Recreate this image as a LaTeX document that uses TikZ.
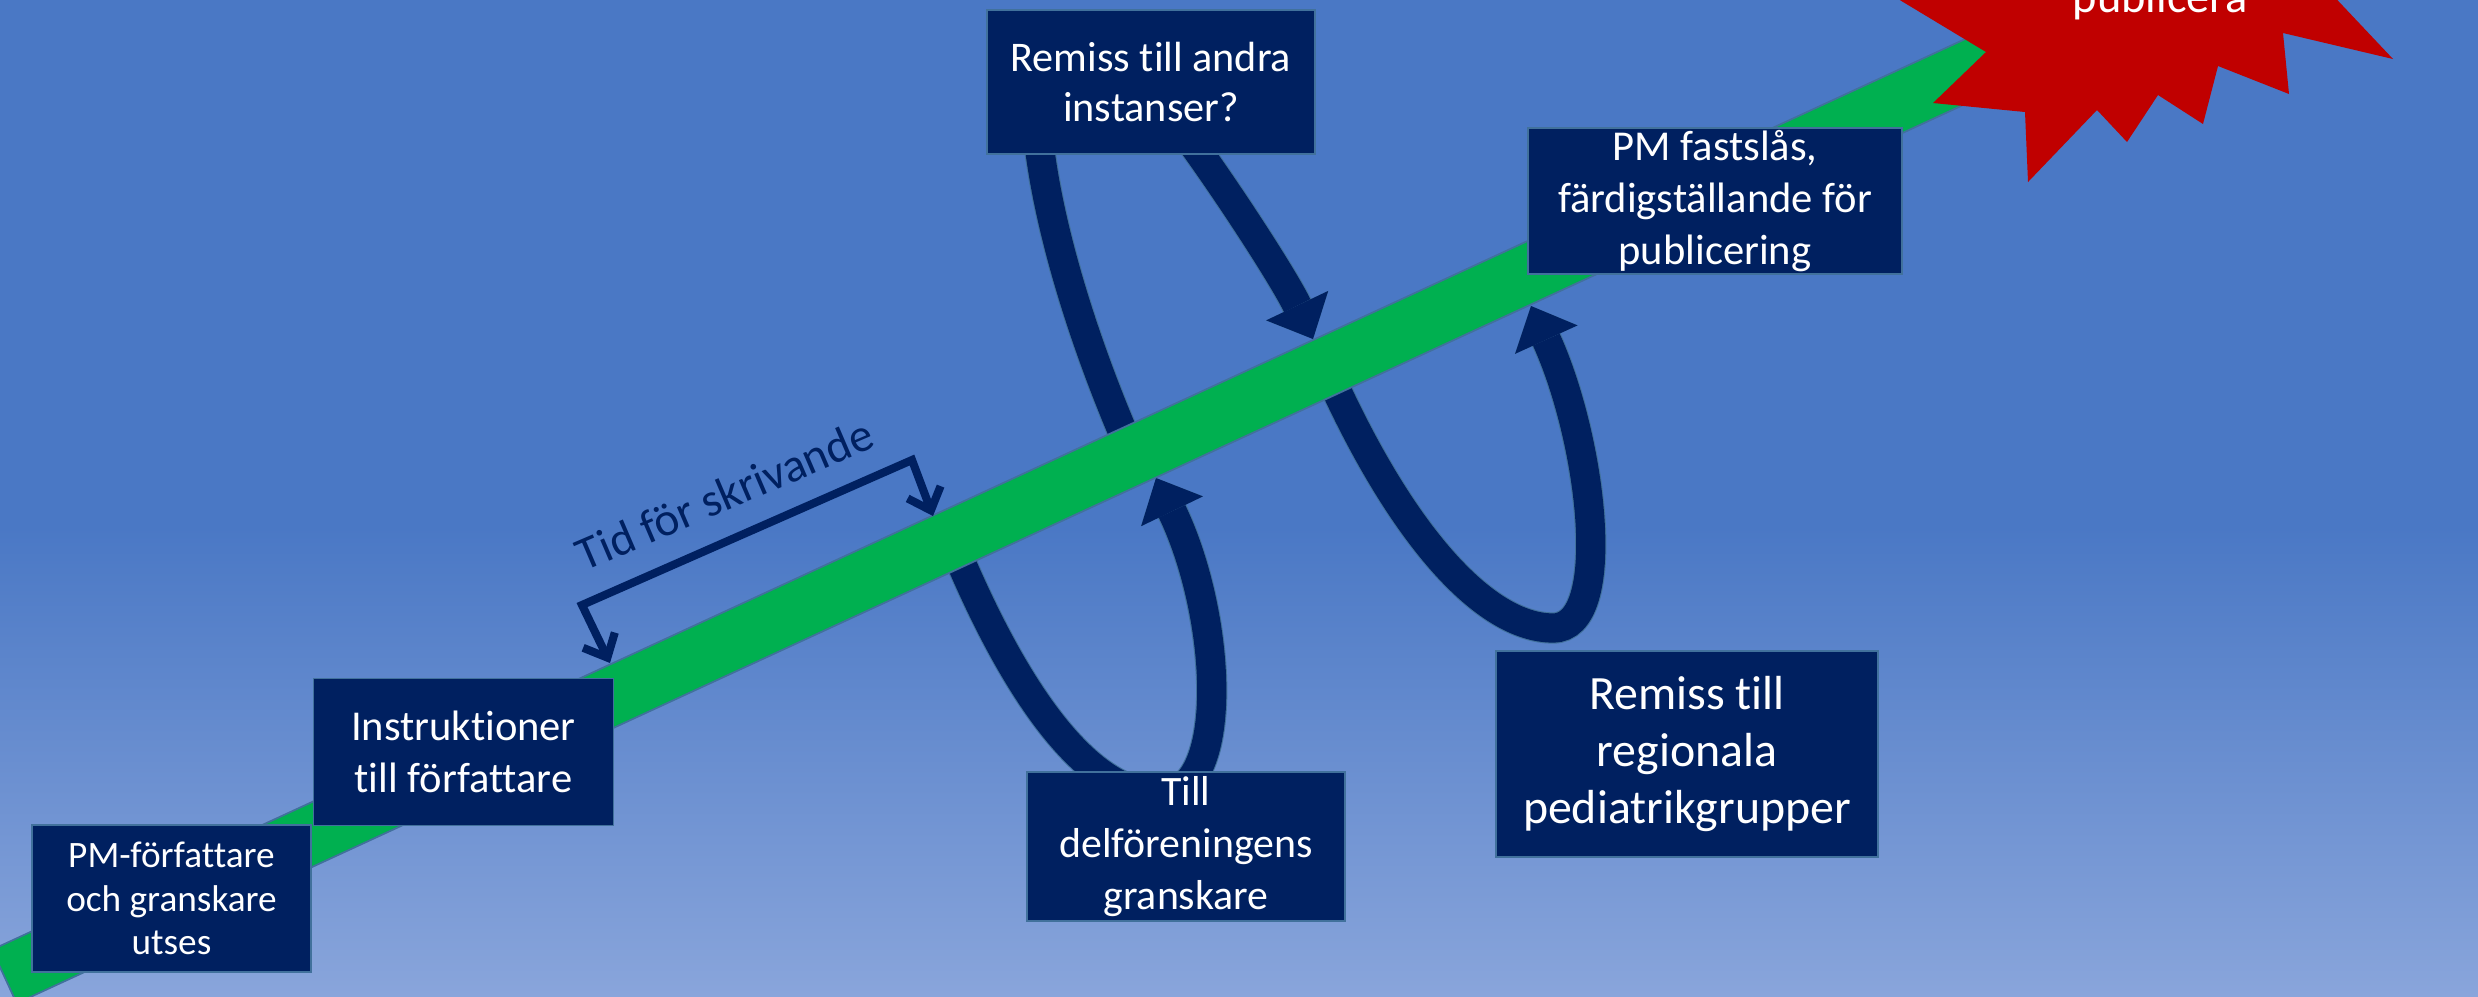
\documentclass[tikz,border=0pt]{standalone}
\usepackage{fontspec}
\setmainfont{Carlito}[Ligatures=NoCommon]
\usetikzlibrary{arrows.meta}
\definecolor{navy}{RGB}{0,32,96}
\definecolor{edgeblue}{RGB}{65,113,156}
\definecolor{bandgreen}{RGB}{0,176,80}
\definecolor{starred}{RGB}{192,0,0}
\definecolor{bgtop}{RGB}{74,120,197}
\definecolor{bgbot}{RGB}{137,165,219}
\tikzset{
  box/.style={draw=edgeblue, line width=0.5pt, fill=navy, text=white, align=center, inner sep=0pt},
  loopback/.style={draw=edgeblue, line width=8.9pt, -{Triangle[length=10.5pt,width=19.5pt,line width=0.8pt,fill=edgeblue]}},
  loopfront/.style={draw=navy, line width=8.3pt, -{Triangle[length=10.5pt,width=19.5pt,line width=0pt,fill=navy]}},
  bracketline/.style={draw=navy, line width=2.3pt, line join=miter, {Straight Barb[length=5.5pt,width=10pt]}-{Straight Barb[length=5.5pt,width=10pt]}},
  bandstyle/.style={draw=edgeblue, line width=0.5pt, fill=bandgreen}
}
\begin{document}
\begin{tikzpicture}[x=0.01cm, y=-0.01cm]
\useasboundingbox (0,0) rectangle (2478,996);
\clip (0,0) rectangle (2478,996);
% background
\fill[bgtop] (0,0) rectangle (2478,530);
\shade[top color=bgtop, bottom color=bgbot] (0,527) rectangle (2478,996);

% coordinates on the band and loops
\coordinate (U0) at (-8,949.7);
\coordinate (U1) at (2040,4.5);
\coordinate (L1) at (2064.7,58.1);
\coordinate (L0) at (16.7,1003.3);

\coordinate (t0) at (1135,460);
\coordinate (t1) at (1036,110);
\coordinate (t2) at (1190,140);
\coordinate (t3) at (1313,339);

\coordinate (m0) at (960,560);
\coordinate (m1) at (1160,795);
\coordinate (m2) at (1156,478);

\coordinate (r0) at (1325,365);
\coordinate (r1) at (1553,628);
\coordinate (r2) at (1531,306);

% loops (behind band and boxes)
\draw[loopback] (t0) .. controls (1090,360) and (1042,220) .. (t1) .. controls (1030,30) and (1150,60) .. (t2) .. controls (1230,195) and (1285,280) .. (t3);
\draw[loopfront] (t0) .. controls (1090,360) and (1042,220) .. (t1) .. controls (1030,30) and (1150,60) .. (t2) .. controls (1230,195) and (1285,280) .. (t3);

\draw[loopback] (m0) .. controls (1020,700) and (1090,795) .. (m1) .. controls (1232,795) and (1222,615) .. (m2);
\draw[loopfront] (m0) .. controls (1020,700) and (1090,795) .. (m1) .. controls (1232,795) and (1222,615) .. (m2);

\draw[loopback] (r0) .. controls (1400,535) and (1485,628) .. (r1) .. controls (1615,628) and (1592,440) .. (r2);
\draw[loopfront] (r0) .. controls (1400,535) and (1485,628) .. (r1) .. controls (1615,628) and (1592,440) .. (r2);

% green band
\draw[bandstyle] (U0) -- (U1) -- (L1) -- (L0) -- cycle;

% red star
\fill[starred] (1850,-30) -- (1986,52) -- (1933,103) -- (2025,112) -- (2028,182) -- (2097,110) -- (2127,142) -- (2158,95) -- (2203,124) -- (2218,66) -- (2289,94) -- (2283,33) -- (2393,59) -- (2309,-30) -- cycle;
\node[anchor=base, text=white, font=\fontsize{13.2pt}{16pt}\selectfont, inner sep=0pt] (pub) at (2160,12) {publicera};

% boxes
\node[box, minimum width=2.79cm, minimum height=1.47cm, font=\fontsize{10.6pt}{12.4pt}\selectfont] (pmf) at (171.5,898.5) {PM-författare\\och granskare\\utses};
\node[box, minimum width=3.00cm, minimum height=1.47cm, font=\fontsize{12.1pt}{14.8pt}\selectfont] (instr) at (463.5,752) {Instruktioner\\till författare};
\node[box, minimum width=3.28cm, minimum height=1.44cm, font=\fontsize{12pt}{14.2pt}\selectfont] (remA) at (1151,82) {Remiss till andra\\instanser?};
\node[box, minimum width=3.74cm, minimum height=1.46cm, font=\fontsize{12.1pt}{14.7pt}\selectfont] (fast) at (1715,201) {PM fastslås,\\färdigställande för\\publicering};
\node[box, minimum width=3.18cm, minimum height=1.49cm, font=\fontsize{11.9pt}{14.7pt}\selectfont] (till) at (1186,846.5) {Till\\delföreningens\\granskare};
\node[box, minimum width=3.82cm, minimum height=2.06cm, font=\fontsize{13.6pt}{16.2pt}\selectfont] (reg) at (1687,754) {Remiss till\\regionala\\pediatrikgrupper};

% bracket "Tid för skrivande"
\coordinate (brL) at (610,663);
\coordinate (cL) at (582,605);
\coordinate (cR) at (912,460);
\coordinate (brR) at (933,516);
\draw[bracketline] (brL) -- (cL) -- (cR) -- (brR);
\node[anchor=base, text=navy, rotate=23.2, font=\fontsize{13.4pt}{16pt}\selectfont, inner sep=0pt] (tid) at (731,509) {Tid för skrivande};
\end{tikzpicture}
\end{document}
